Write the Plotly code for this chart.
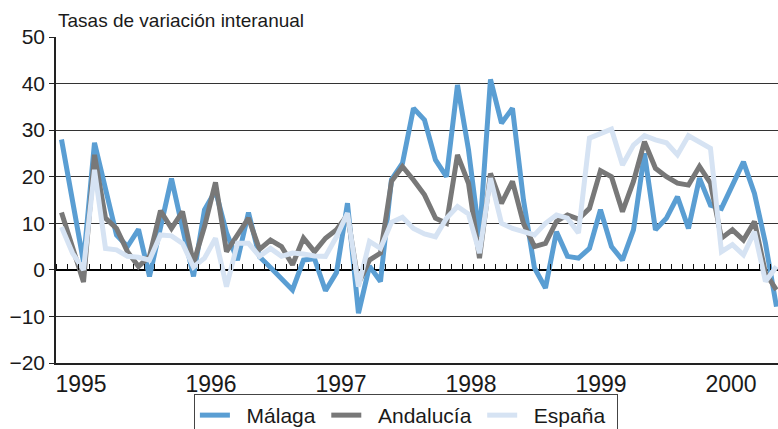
import plotly.graph_objects as go

months = list(range(66))  # Jan 1995 .. Jun 2000
years = ["1995", "1996", "1997", "1998", "1999", "2000"]
y_ticks = [50, 40, 30, 20, 10, 0, -10, -20]

malaga = [28, 15, 1.7, 27.3, 17, 7.5, 5, 8.7, -1.4, 9, 19.6, 9,
          -1.4, 12.9, 17, 8, 2.1, 12.3, 2.8, 0.5, -2, -4.3, 2.1, 2.4,
          -4.5, -0.6, 14.3, -9.3, 0.8, -2.5, 19.4, 22.9, 34.7, 32.2, 23.6, 20,
          39.7, 25.8, 7.1, 40.9, 31.5, 34.7, 15, 0.4, -3.9, 8.2, 2.9, 2.5,
          4.6, 12.9, 5, 2.1, 8.6, 25, 8.6, 11.1, 15.7, 8.9, 19.7, 13.9,
          13.2, 18.2, 23.2, 16.4, 5.7, -7.9]
andalucia = [12.3, 5, -2.6, 24.7, 11.1, 8.9, 3.9, 0.7, 2.9, 12.7, 8.9, 12.5,
             1.4, 9.3, 18.8, 3.9, 7.7, 11.1, 4.4, 6.4, 5, 1.1, 6.8, 3.9,
             6.8, 8.6, 11.8, -2.9, 2.1, 3.6, 19, 22.2, 19.3, 16.1, 11.1, 10,
             24.7, 18.6, 2.5, 20.7, 14.3, 19, 10, 5, 5.7, 10.4, 11.8, 10.9,
             13.2, 21.3, 20, 12.5, 19, 27.5, 21.8, 20, 18.6, 18.2, 22.2, 18.6,
             6.8, 8.6, 6.4, 10.4, -0.7, -4.3]
espana = [9.2, 3.6, 0, 21.5, 4.6, 4.3, 2.9, 2.7, 2.1, 7.5, 7.3, 5.7,
          0.6, 2.5, 6.8, -3.6, 5.7, 5.7, 2.9, 4.6, 2.9, 3.6, 3.4, 3,
          2.9, 7.1, 12.2, -3.6, 6.1, 4.6, 10.2, 11.3, 8.9, 7.7, 7.1, 11.1,
          13.6, 12, 3.6, 19.7, 10, 8.9, 8.2, 7.5, 10, 11.8, 11.1, 7.9,
          28.3, 29.2, 30.2, 22.5, 26.8, 28.8, 27.9, 27.3, 24.7, 28.8, 27.5, 26.1,
          3.9, 5.4, 3.2, 8.2, -2.5, 0.7]

FONT = "Liberation Sans, Arial, sans-serif"
xr = [-0.5, 65.14]
NB = "\u00a0"

fig = go.Figure()
series = [("Málaga", malaga, "#5A9ED3", "x"),
          ("Andalucía", andalucia, "#787878", "x2"),
          ("España", espana, "#D6E3F3", "x2")]
for name, vals, col, xa in series:
    fig.add_trace(go.Scatter(x=months, y=vals, name=NB * 2 + name + NB, mode="lines",
                             line=dict(color=col, width=5), xaxis=xa, yaxis="y"))

year_pos = [1.77 + 11.82 * k for k in range(len(years))]

fig.update_layout(
    width=778, height=442,
    margin=dict(l=56, r=0, t=37, b=79),
    plot_bgcolor="white", paper_bgcolor="white",
    font=dict(family=FONT, size=21, color="#1a1a1a"),
    xaxis=dict(range=xr, tickvals=year_pos, ticktext=years, ticks="",
               showgrid=False, zeroline=False, showline=True,
               linecolor="#222", linewidth=1.5, tickfont=dict(size=23),
               ticklabelstandoff=0),
    xaxis2=dict(range=xr, overlaying="x", anchor="free", position=20 / 70,
                side="top", ticks="outside", ticklen=6, tickwidth=1.2,
                tickcolor="#111", tick0=-0.5, dtick=1, showticklabels=False,
                showgrid=False, zeroline=False, showline=False),
    yaxis=dict(range=[-20, 50], tickvals=y_ticks, showgrid=True,
               gridcolor="#333", gridwidth=1, zeroline=True,
               zerolinecolor="#000", zerolinewidth=2, showline=True,
               linecolor="#222", linewidth=1.5, ticks="outside", ticklen=5,
               tickcolor="#222", tickfont=dict(size=21)),
    legend=dict(orientation="h", x=0.191, y=-0.095, xanchor="left", yanchor="top",
                bordercolor="#444", borderwidth=1, font=dict(size=21),
                traceorder="normal"),
    showlegend=True,
)
fig.add_annotation(text="Tasas de variación interanual", xref="paper", yref="paper",
                   x=0.0, y=1.052, xanchor="left", yanchor="middle",
                   showarrow=False, font=dict(size=19))
fig.write_html("out.html", config={"displayModeBar": False},
               post_script="document.body.style.margin='0';"
                           "document.body.style.overflow='hidden';"
                           "document.documentElement.style.overflow='hidden';")
